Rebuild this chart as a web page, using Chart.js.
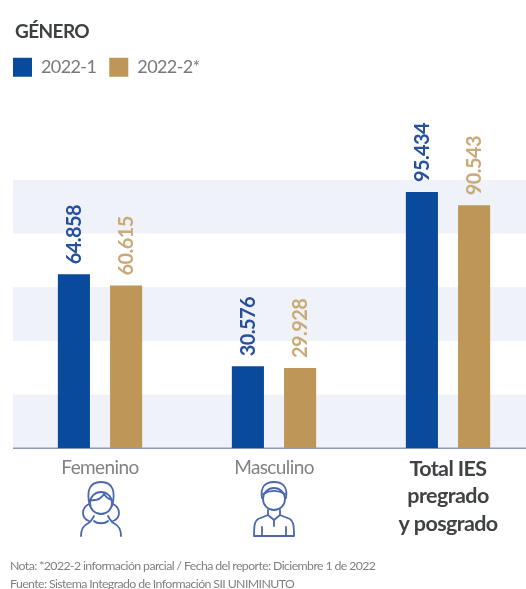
<!DOCTYPE html>
<html><head><meta charset="utf-8">
<script src="https://cdn.jsdelivr.net/npm/chart.js@4"></script>
<style>
html,body{margin:0;padding:0;background:#fff;width:526px;height:589px;overflow:hidden}
#wrap{position:relative;width:526px;height:589px;overflow:hidden;filter:blur(0.6px)}
canvas{position:absolute;left:0;top:0}
svg{position:absolute}
</style></head><body>
<div id="wrap">
<canvas id="c" width="535" height="589" style="width:535px;height:589px"></canvas>
<svg style="left:78px;top:480px" width="46" height="58" viewBox="0 0 46 58" fill="none" stroke="#4a68ad" stroke-width="1.8" stroke-linejoin="round" stroke-linecap="round">
<path d="M12 26C8 12 11 2 23 2s15 10 11 24"/>
<circle cx="23" cy="23" r="11"/>
<path d="M12 20c6 1 11-1 14-6 2 3 4 5 8 6"/>
<path d="M11 24C3 28 3 38 11 41M35 24c8 4 8 14 0 17"/>
<path d="M16 36c-2 4-3 6-7 8-4 2-6 6-6 12M30 36c2 4 3 6 7 8 4 2 6 6 6 12"/>
<path d="M16 41c3 3 11 3 14 0"/>
</svg>
<svg style="left:251px;top:480px" width="46" height="58" viewBox="0 0 46 58" fill="none" stroke="#4a68ad" stroke-width="1.8" stroke-linejoin="round" stroke-linecap="round">
<circle cx="23" cy="19" r="11"/>
<path d="M11 18C9 6 15 2 23 2s14 4 12 16"/>
<path d="M12 14c7-4 15-4 22 0"/>
<path d="M17 30v5l6 5 6-5v-5"/>
<path d="M17 35 7 39c-3 2-4 5-4 17h40c0-12-1-15-4-17l-10-4"/>
<path d="M23 40v6M11 56V47M35 56V47"/>
</svg>
</div>
<script>
const categories=[["Femenino"],["Masculino"],["Total IES","pregrado","y posgrado"]];
const series1Name="2022-1";
const series2Name="2022-2*";
const series1=[64858,30576,95434];
const series2=[60615,29928,90543];
const bandStarts=[0,40000,80000];
const bandSize=20000;
const FONT='Lato,"Liberation Sans"';
const BLUE='#0a4a9c',TAN='#bd9658';
const fmt=v=>String(v).replace(/\B(?=(\d{3})+$)/,'.');
const tight=ch=>{ch.ctx.letterSpacing='-0.6px';};
const layoutPlugin={id:'lay',
 beforeInit(ch){
   tight(ch);
   const f=ch.legend.fit;
   ch.legend.fit=function(){f.call(this);this.height+=93;};
 },
 beforeLayout:tight,beforeDraw:tight,
 afterLayout(ch){
   ch.legend.left-=13;
   ch.titleBlock.left+=2;
   const sub=ch.boxes.find(b=>b.position==='bottom'&&b.options&&b.options.text);
   if(sub)sub.left-=3;
 }};
const bandsPlugin={id:'bands',beforeDatasetsDraw(ch){
  const {ctx,chartArea:a,scales:{y}}=ch;
  ctx.save();ctx.fillStyle='#eff2f8';
  bandStarts.forEach(s=>{const t=y.getPixelForValue(s+bandSize),b=y.getPixelForValue(s);ctx.fillRect(a.left,t,a.right-a.left,b-t);});
  ctx.strokeStyle='#8d9ab8';ctx.lineWidth=1.5;ctx.beginPath();ctx.moveTo(a.left,a.bottom);ctx.lineTo(a.right,a.bottom);ctx.stroke();
  ctx.restore();
}};
const labelsPlugin={id:'vals',afterDatasetsDraw(ch){
  const {ctx}=ch;
  ch.data.datasets.forEach((d,i)=>{
    ch.getDatasetMeta(i).data.forEach((el,j)=>{
      ctx.save();ctx.translate(el.x,el.y-10);ctx.rotate(-Math.PI/2);ctx.scale(0.95,1);
      ctx.font='bold 21px '+FONT;ctx.fillStyle=i==0?'#26509f':'#c9ab78';
      ctx.textAlign='left';ctx.textBaseline='middle';
      ctx.fillText(fmt(d.data[j]),0,0);ctx.restore();
    });
  });
}};
new Chart(document.getElementById('c'),{type:'bar',
 data:{labels:categories,datasets:[
  {label:series1Name,data:series1,backgroundColor:BLUE},
  {label:series2Name,data:series2,backgroundColor:TAN}]},
 plugins:[layoutPlugin,bandsPlugin,labelsPlugin],
 options:{responsive:false,animation:false,
  layout:{padding:{left:13,right:0,top:20,bottom:0}},
  datasets:{bar:{categoryPercentage:0.6,barPercentage:0.615}},
  plugins:{
   tooltip:{enabled:false},
   title:{display:true,text:'GÉNERO',align:'start',color:'#3d3f42',font:{family:FONT,size:19,weight:'bold'},padding:{top:0,bottom:2}},
   legend:{display:true,position:'top',align:'start',
     labels:{boxWidth:19,boxHeight:19,padding:13,color:'#77797c',font:{family:FONT,size:18}}},
   subtitle:{display:true,position:'bottom',align:'start',text:['Nota: *2022-2 información parcial / Fecha del reporte: Diciembre 1 de 2022','Fuente: Sistema Integrado de Información SII UNIMINUTO'],color:'#7d7f82',font:{family:FONT,size:12.3,lineHeight:1.45},padding:{top:20.5,bottom:-4}}
  },
  scales:{
   y:{display:false,min:0,max:100000},
   x:{grid:{display:false},border:{display:false},
      ticks:{padding:-1,maxRotation:0,autoSkip:false,
        color:c=>c.index==2?'#404245':'#808285',
        font:c=>({family:FONT,size:c.index==2?21.5:19,weight:c.index==2?'bold':'normal',lineHeight:c.index==2?1.28:1.3})}}
  }
 }});
</script>
</body></html>
